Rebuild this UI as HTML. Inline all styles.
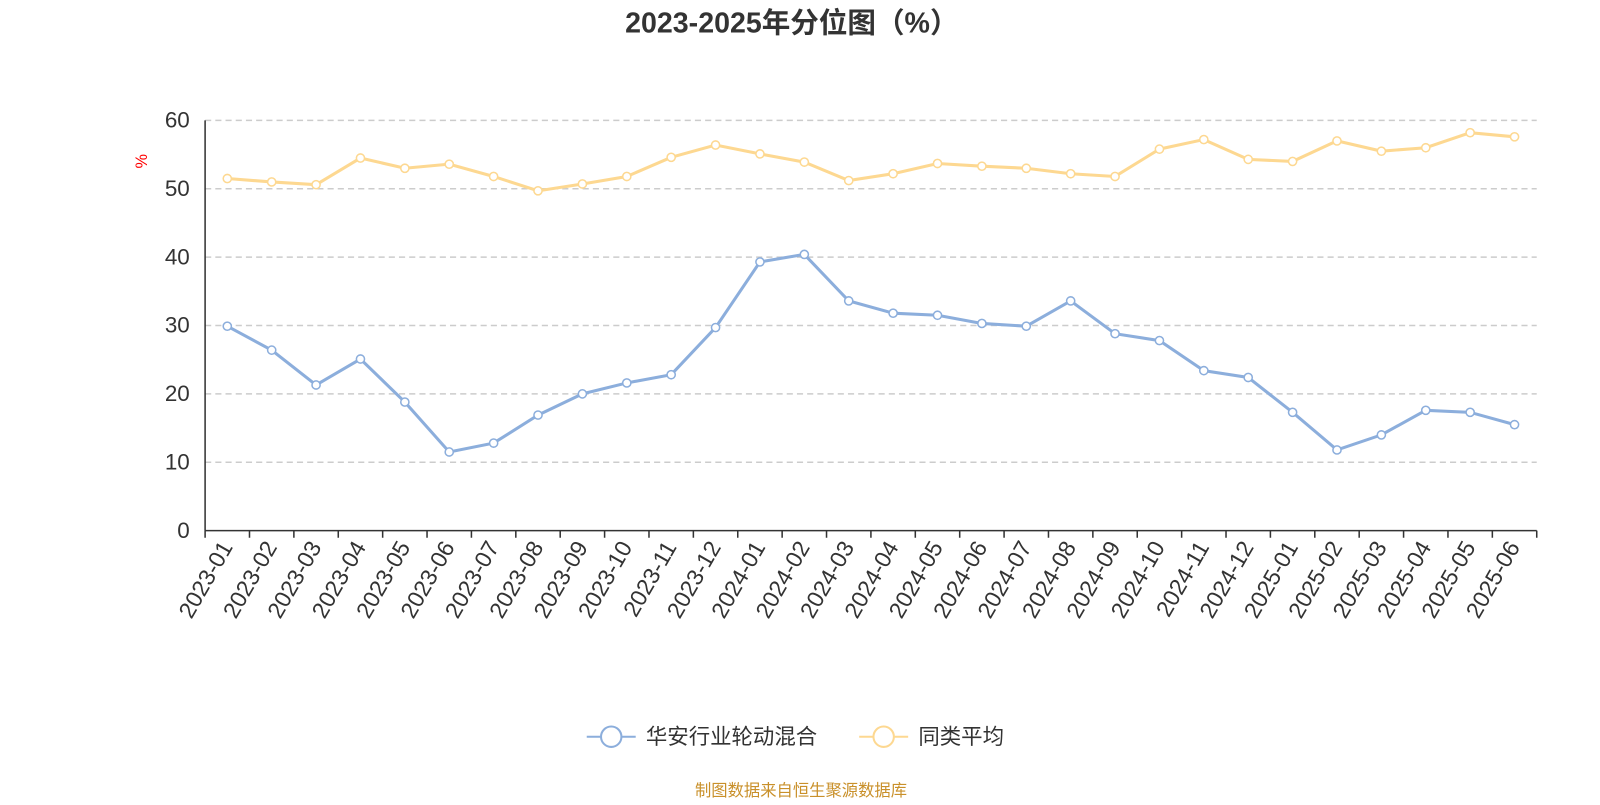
<!DOCTYPE html>
<html><head><meta charset="utf-8"><style>
body{margin:0;background:#fff;width:1600px;height:800px;overflow:hidden;font-family:"Liberation Sans","Noto Sans CJK SC",sans-serif}
</style></head><body>
<svg id="c" width="1600" height="800" viewBox="0 0 1568 784" xmlns="http://www.w3.org/2000/svg"></svg>
<script>
const categories=["2023-01","2023-02","2023-03","2023-04","2023-05","2023-06","2023-07","2023-08","2023-09","2023-10","2023-11","2023-12","2024-01","2024-02","2024-03","2024-04","2024-05","2024-06","2024-07","2024-08","2024-09","2024-10","2024-11","2024-12","2025-01","2025-02","2025-03","2025-04","2025-05","2025-06"];
const fundValues=[29.9,26.4,21.3,25.1,18.8,11.5,12.8,16.9,20.0,21.6,22.8,29.7,39.3,40.4,33.6,31.8,31.5,30.3,29.9,33.6,28.8,27.8,23.4,22.4,17.3,11.8,14.0,17.6,17.3,15.5];
const avgValues=[51.5,51.0,50.6,54.5,53.0,53.6,51.8,49.7,50.7,51.8,54.6,56.4,55.1,53.9,51.2,52.2,53.7,53.3,53.0,52.2,51.8,55.8,57.2,54.3,54.0,57.0,55.5,56.0,58.2,57.6];
const yTicks=[0,10,20,30,40,50,60];
const NS="http://www.w3.org/2000/svg";
const svg=document.getElementById('c');
const L=201,R=1506,T=118,B=520,YMAX=60;
const bw=(R-L)/categories.length;
const x=i=>L+bw*(i+0.5);
const y=v=>B-(v/YMAX)*(B-T);
function mk(tag,attrs,parent){const e=document.createElementNS(NS,tag);for(const k in attrs)e.setAttribute(k,attrs[k]);(parent||svg).appendChild(e);return e;}
let t=mk('text',{x:776,y:32,'text-anchor':'middle','font-size':28,'font-weight':'bold',fill:'#333'});


t.textContent='2023-2025年分位图（%）';
yTicks.forEach(v=>{
  if(v>0){const g=mk('line',{x1:L,x2:R,y1:y(v),y2:y(v),stroke:'#ccc','stroke-dasharray':'6,4','stroke-width':1.5});
  
  }
  const lb=mk('text',{x:186,y:y(v)+7,'text-anchor':'end','font-size':22,fill:'#333'});
  
  
  lb.textContent=v;
});
let u=mk('text',{x:144,y:158,'text-anchor':'middle','font-size':16,fill:'red',transform:'rotate(-90 144 158)'});


u.textContent='%';
let ya=mk('line',{x1:L,x2:L,y1:T,y2:B,stroke:'#333','stroke-width':1.5});


let xa=mk('line',{x1:L,x2:R,y1:B,y2:B,stroke:'#333','stroke-width':1.5});


for(let i=0;i<=categories.length;i++){const tk=mk('line',{x1:L+bw*i,x2:L+bw*i,y1:B,y2:B+7,stroke:'#333','stroke-width':1.5});

}
categories.forEach((c,i)=>{
  const px=x(i)+6,py=B+16;
  const lb=mk('text',{x:px,y:py,'text-anchor':'end','font-size':22.5,fill:'#333',transform:`rotate(-60 ${px} ${py})`});
  
  
  lb.textContent=c;
});
function series(vals,color,name){
  const p=mk('polyline',{points:vals.map((v,i)=>x(i)+','+y(v)).join(' '),fill:'none',stroke:color,'stroke-width':3});
  
  
  vals.forEach((v,i)=>{const c=mk('circle',{cx:x(i),cy:y(v),r:4,fill:'#fff',stroke:color,'stroke-width':1.5});
  
  });
}
series(avgValues,'#fdd891','average');
series(fundValues,'#8caedc','fund');
function legend(lx,color,label,name){
  const g=mk('g',{});
  
  
  mk('line',{x1:lx,x2:lx+48,y1:722,y2:722,stroke:color,'stroke-width':2},g);
  mk('circle',{cx:lx+24,cy:722,r:10,fill:'#fff',stroke:color,'stroke-width':2},g);
  const tt=mk('text',{x:lx+58,y:729,'font-size':21,fill:'#333'},g);tt.textContent=label;
}
legend(575,'#8caedc','华安行业轮动混合','fund');
legend(842,'#fdd891','同类平均','average');
let f=mk('text',{x:785,y:780,'text-anchor':'middle','font-size':16,fill:'#c9902a'});


f.textContent='制图数据来自恒生聚源数据库';
</script>
</body></html>
